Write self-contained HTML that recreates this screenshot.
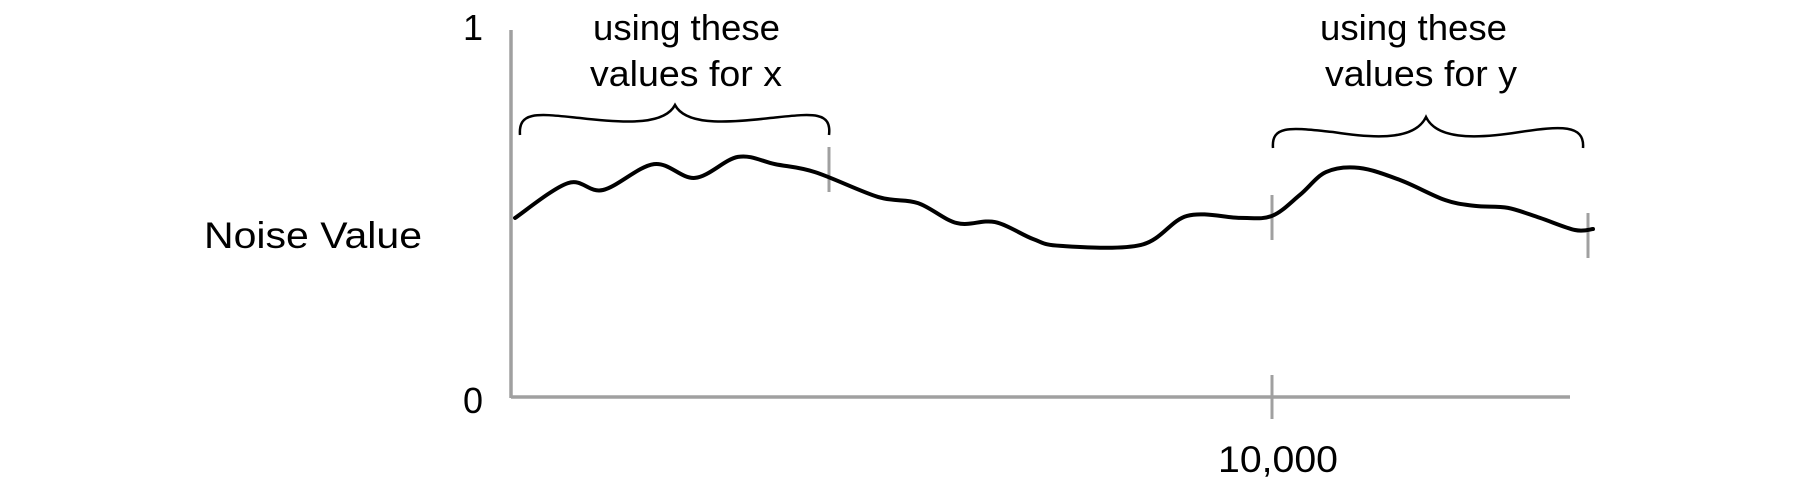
<!DOCTYPE html>
<html><head><meta charset="utf-8"><style>
html,body{margin:0;padding:0;background:#fff;}
svg{display:block;}
text{font-family:"Liberation Sans",sans-serif;fill:#000;}
</style></head><body>
<svg id="chart" width="1800" height="486" viewBox="0 0 1800 486" xmlns="http://www.w3.org/2000/svg">
<text x="204" y="248" font-size="37" textLength="218" lengthAdjust="spacingAndGlyphs">Noise Value</text>
<text x="473" y="40" font-size="36" text-anchor="middle">1</text>
<text x="473" y="413" font-size="36" text-anchor="middle">0</text>
<text x="1218" y="472" font-size="37" textLength="120" lengthAdjust="spacingAndGlyphs">10,000</text>
<line x1="511" y1="30" x2="511" y2="398" stroke="#a0a0a0" stroke-width="3.5"/>
<line x1="511" y1="397" x2="1570" y2="397" stroke="#a0a0a0" stroke-width="3.5"/>
<line x1="1272" y1="375" x2="1272" y2="419" stroke="#a0a0a0" stroke-width="3"/>
<line x1="829" y1="147" x2="829" y2="192" stroke="#a0a0a0" stroke-width="3"/>
<line x1="1272" y1="195" x2="1272" y2="240" stroke="#a0a0a0" stroke-width="3"/>
<line x1="1588" y1="213" x2="1588" y2="258" stroke="#a0a0a0" stroke-width="3"/>
<path d="M520,135 C518,110 540,114 580,118 C630,124 665,124 675,105 C685,124 720,124 770,118 C810,114 832,110 829,135" fill="none" stroke="#000" stroke-width="2.5"/>
<path d="M1273,148 C1271,124 1293,128 1333,132 C1383,140 1416,138 1426,117 C1436,138 1470,140 1520,132 C1560,126 1585,124 1583,148" fill="none" stroke="#000" stroke-width="2.5"/>
<text x="593" y="40" font-size="36" textLength="187" lengthAdjust="spacingAndGlyphs">using these</text>
<text x="590" y="86" font-size="36" textLength="192" lengthAdjust="spacingAndGlyphs">values for x</text>
<text x="1320" y="40" font-size="36" textLength="187" lengthAdjust="spacingAndGlyphs">using these</text>
<text x="1325" y="86" font-size="36" textLength="192" lengthAdjust="spacingAndGlyphs">values for y</text>
<g id="series"></g>
</svg>
<script>
const xs = [40,737,1197,1868,2408,2974,3461,3987,4816,5342,5855,6355,6855,7224,8276,8882,9579,10000,10368,10711,11145,11684,12276,12671,13105,13526,13987,14224];
const noiseValues = [0.519,0.620,0.600,0.675,0.635,0.696,0.675,0.652,0.580,0.562,0.504,0.507,0.458,0.438,0.441,0.525,0.519,0.525,0.586,0.652,0.664,0.629,0.571,0.554,0.548,0.519,0.484,0.487];
const yTicks = [0, 1];
const xTicks = [10000];

function sx(v){ return 512 + v * (1272 - 512) / 10000; }
function sy(v){ return 397 - v * 345; }

const pts = xs.map((x,i)=>[sx(x), sy(noiseValues[i])]);
let d = 'M' + pts[0][0] + ',' + pts[0][1];
for (let i=0;i<pts.length-1;i++){
  const p0 = pts[i-1]||pts[i], p1=pts[i], p2=pts[i+1], p3=pts[i+2]||pts[i+1];
  const c1x = p1[0]+(p2[0]-p0[0])/6, c1y = p1[1]+(p2[1]-p0[1])/6;
  const c2x = p2[0]-(p3[0]-p1[0])/6, c2y = p2[1]-(p3[1]-p1[1])/6;
  d += ` C${c1x.toFixed(1)},${c1y.toFixed(1)} ${c2x.toFixed(1)},${c2y.toFixed(1)} ${p2[0].toFixed(1)},${p2[1].toFixed(1)}`;
}
const path = document.createElementNS('http://www.w3.org/2000/svg','path');
path.setAttribute('d', d);
path.setAttribute('fill','none');
path.setAttribute('stroke','#000');
path.setAttribute('stroke-width','4');
path.setAttribute('stroke-linecap','round');
path.setAttribute('stroke-linejoin','round');


document.getElementById('series').appendChild(path);
</script>
</body></html>
